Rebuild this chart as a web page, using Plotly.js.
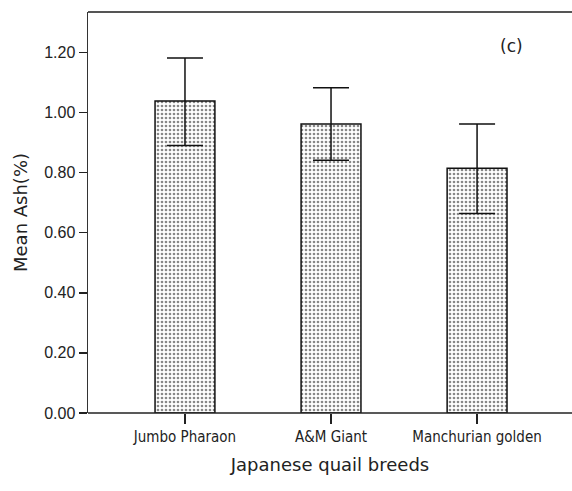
<!DOCTYPE html>
<html>
<head>
<meta charset="utf-8">
<script src="https://cdn.plot.ly/plotly-3.0.1.min.js"></script>
<style>html,body{margin:0;padding:0;background:#fff;}#chart{width:572px;height:491px;}</style>
</head>
<body>
<div id="chart"></div>
<script>
var breeds = ["Jumbo Pharaon", "A&M Giant", "Manchurian golden"];
var meanAsh = [1.038, 0.961, 0.814];
var errUpper = [0.143, 0.121, 0.147];
var errLower = [0.148, 0.120, 0.150];
var yTickVals = [0, 0.2, 0.4, 0.6, 0.8, 1.0, 1.2];
var yTickText = ["0.00", "0.20", "0.40", "0.60", "0.80", "1.00", "1.20"];

var trace = {
  type: "bar",
  x: breeds,
  y: meanAsh,
  width: 0.41,
  marker: {
    color: "#ffffff",
    line: {color: "#111", width: 1.5},
    pattern: {shape: ".", size: 4, solidity: 0.35, fgcolor: "#888", bgcolor: "#fff", fillmode: "replace"}
  },
  error_y: {
    type: "data", symmetric: false,
    array: errUpper, arrayminus: errLower,
    color: "#111", thickness: 1.5, width: 18
  },
  hoverinfo: "none"
};

var layout = {
  width: 572, height: 491,
  margin: {l: 88, r: 0, t: 12, b: 78},
  paper_bgcolor: "#fff", plot_bgcolor: "#fff",
  showlegend: false,
  bargap: 0,
  xaxis: {
    type: "category",
    range: [-0.664, 2.65],
    showgrid: false, zeroline: false,
    showline: false,
    ticks: "outside", ticklen: 10, tickwidth: 1.5, tickcolor: "#222",
    tickfont: {family: "DejaVu Sans Condensed, Liberation Sans", size: 15, color: "#222"},
    title: {text: "Japanese quail breeds", font: {family: "DejaVu Sans", size: 18, color: "#222"}, standoff: 13}
  },
  yaxis: {
    range: [0, 1.334],
    showgrid: false, zeroline: false,
    showline: true, linecolor: "#333", linewidth: 1.5,
    ticks: "outside", ticklen: 8, tickwidth: 1.5, tickcolor: "#222",
    tickvals: yTickVals, ticktext: yTickText,
    tickfont: {family: "Liberation Sans", size: 16, color: "#222"},
    title: {text: "Mean Ash(%)", font: {family: "DejaVu Sans", size: 18, color: "#222"}, standoff: 12}
  },
  shapes: [
    {type: "line", xref: "paper", yref: "paper", x0: 0, x1: 1, y0: 1, y1: 1, line: {color: "#555", width: 2}},
    {type: "line", xref: "paper", yref: "paper", x0: 0, x1: 1, y0: 0, y1: 0, line: {color: "#222", width: 1.5}}
  ],
  annotations: [
    {text: "(c)", xref: "paper", yref: "paper", x: 0.875, y: 0.916, showarrow: false, xanchor: "center", yanchor: "middle",
     font: {family: "DejaVu Sans", size: 17, color: "#222"}}
  ]
};

Plotly.newPlot("chart", [trace], layout, {staticPlot: true, displayModeBar: false});
</script>
</body>
</html>
